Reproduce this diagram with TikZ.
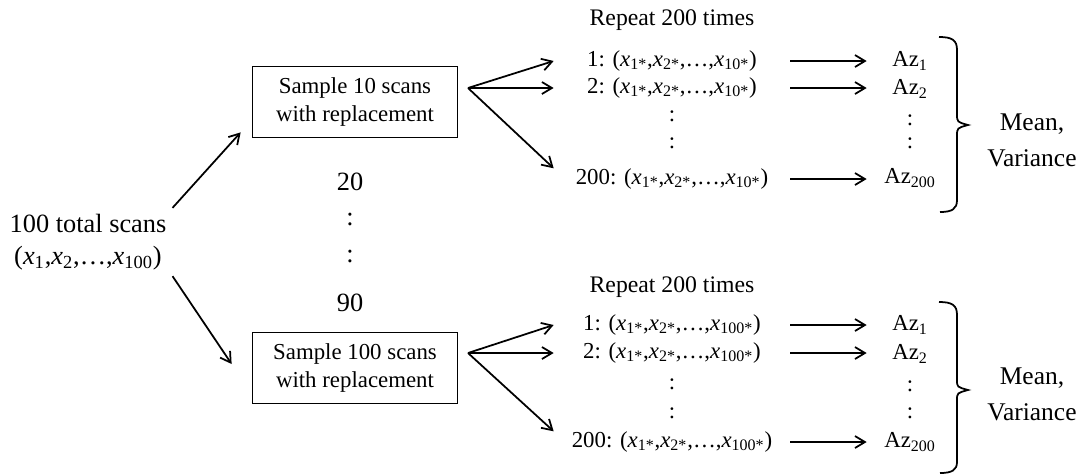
\documentclass[tikz,border=0pt]{standalone}
\usepackage{fontspec}
\setmainfont{Liberation Serif}
\usepackage{tikz}
\usetikzlibrary{arrows.meta,positioning,calc}

\newcommand{\xs}[1]{\textit{x}\textsubscript{#1}}

\begin{document}
\begin{tikzpicture}[x=0.02cm, y=-0.02cm,
  big/.style={align=center, font=\fontsize{15}{18.2}\selectfont},
  sampler/.style={rectangle, draw=black, line width=1pt, minimum width=205*0.02cm, minimum height=71*0.02cm, align=center, font=\fontsize{13}{15.5}\selectfont},
  label/.style={font=\fontsize{13.5}{16}\selectfont},
  draw row/.style={minimum width=236*0.02cm, inner sep=0pt, font=\fontsize{13}{15}\selectfont},
  az/.style={minimum width=86*0.02cm, inner sep=0pt, font=\fontsize{13}{15}\selectfont},
  vdots/.style={inner sep=0pt, font=\fontsize{13}{15}\selectfont},
  stat/.style={align=center, font=\fontsize{14.5}{20.5}\selectfont},
  line/.style={draw, -{Straight Barb[length=2mm,width=2.4mm]}, line width=1pt},
  brace/.style={draw, line width=1pt}]

  \useasboundingbox (0,0) rectangle (1078,474);

  \node [big] (total) at (88,242) {100 total scans\\(\xs{1},\xs{2},\ldots,\xs{100})};

  \node [sampler] (box10) at (355,102) {Sample 10 scans\\with replacement};
  \node [sampler] (box100) at (355,368) {Sample 100 scans\\with replacement};

  \node [big] (n20) at (350,182) {20};
  \node [big] (d1) at (350,219) {:};
  \node [big] (d2) at (350,256) {:};
  \node [big] (n90) at (350,303) {90};

  \path [line] (total.north east) -- ($(box10.south west)+(-11,-6)$);
  \path [line] (total.south east) -- ($(box100.west)+(-20,-4)$);

  % upper block
  \node [label] (rep10) at (672,20) {Repeat 200 times};
  \node [draw row] (ra1) at (672,61) {1: (\xs{1*},\xs{2*},\ldots,\xs{10*})};
  \node [draw row] (ra2) at (672,88) {2: (\xs{1*},\xs{2*},\ldots,\xs{10*})};
  \node [vdots] (ra3) at (672,116) {:};
  \node [vdots] (ra4) at (672,143) {:};
  \node [draw row] (ra200) at (672,179) {200: (\xs{1*},\xs{2*},\ldots,\xs{10*})};

  \node [az] (aza1) at (910,61) {Az\textsubscript{1}};
  \node [az] (aza2) at (910,89) {Az\textsubscript{2}};
  \node [vdots] (aza3) at (910,120) {:};
  \node [vdots] (aza4) at (910,143) {:};
  \node [az] (aza200) at (910,178) {Az\textsubscript{200}};

  \coordinate (fan10) at (468,88);
  \path [line] (fan10) -- (ra1.west);
  \path [line] (fan10) -- (ra2.west);
  \path [line] (fan10) -- (ra200.north west);

  \path [line] (ra1.east) -- (ra1.east -| aza1.west);
  \path [line] (ra2.east) -- (ra2.east -| aza2.west);
  \path [line] (ra200.east) -- (ra200.east -| aza200.west);

  \path [brace] (939,37) .. controls (952,37) and (957,40) .. (957,50) -- (957,114)
    .. controls (957,122) .. (968,125) .. controls (957,128) .. (957,136) -- (957,200)
    .. controls (957,209) and (952,212) .. (940,212);
  \node [stat] (stat10) at (1032,140) {Mean,\\Variance};

  % lower block
  \node [label] (rep100) at (672,287) {Repeat 200 times};
  \node [draw row] (rb1) at (672,325) {1: (\xs{1*},\xs{2*},\ldots,\xs{100*})};
  \node [draw row] (rb2) at (672,353) {2: (\xs{1*},\xs{2*},\ldots,\xs{100*})};
  \node [vdots] (rb3) at (672,384) {:};
  \node [vdots] (rb4) at (672,413) {:};
  \node [draw row] (rb200) at (672,442) {200: (\xs{1*},\xs{2*},\ldots,\xs{100*})};

  \node [az] (azb1) at (910,325) {Az\textsubscript{1}};
  \node [az] (azb2) at (910,354) {Az\textsubscript{2}};
  \node [vdots] (azb3) at (910,386) {:};
  \node [vdots] (azb4) at (910,413) {:};
  \node [az] (azb200) at (910,442) {Az\textsubscript{200}};

  \coordinate (fan100) at (468,353);
  \path [line] (fan100) -- (rb1.west);
  \path [line] (fan100) -- (rb2.west);
  \path [line] (fan100) -- (rb200.north west);

  \path [line] (rb1.east) -- (rb1.east -| azb1.west);
  \path [line] (rb2.east) -- (rb2.east -| azb2.west);
  \path [line] (rb200.east) -- (rb200.east -| azb200.west);

  \path [brace] (939,302) .. controls (952,302) and (957,305) .. (957,315) -- (957,380)
    .. controls (957,387) .. (968,390) .. controls (957,393) .. (957,400) -- (957,462)
    .. controls (957,470) and (952,473) .. (940,473);
  \node [stat] (stat100) at (1032,394) {Mean,\\Variance};
\end{tikzpicture}
\end{document}
